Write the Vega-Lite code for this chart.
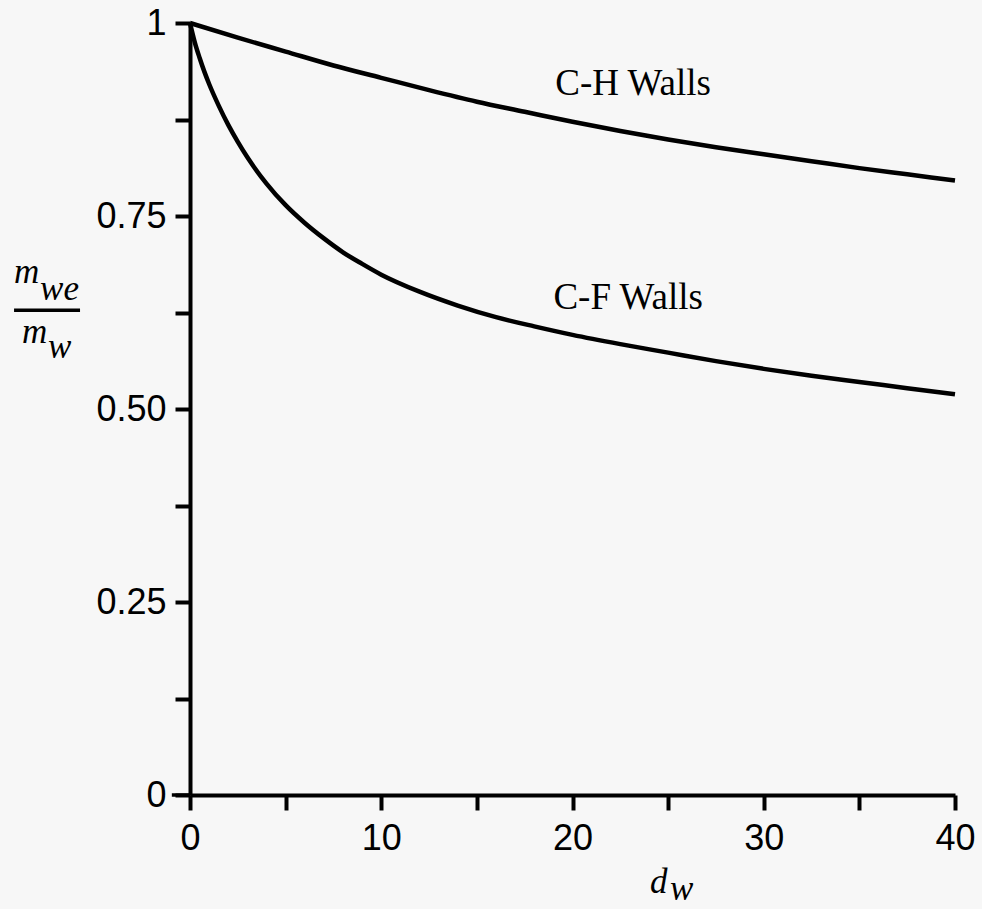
{
  "$schema": "https://vega.github.io/schema/vega-lite/v6.json",
  "width": 765,
  "height": 772,
  "autosize": {"type": "none"},
  "padding": {"left": 190, "top": 23, "right": 27, "bottom": 114},
  "background": "#f7f7f7",
  "config": {
    "view": {"stroke": null},
    "axis": {"grid": false, "domainColor": "#000", "domainWidth": 4, "tickColor": "#000", "tickWidth": 4, "tickSize": 15, "labelColor": "#000", "labelFont": "Liberation Sans", "labelFontSize": 36, "labelFontWeight": "normal"}
  },
  "datasets": {
    "curves": [
      {"d": 0, "r": 1, "s": "C-H"}, {"d": 2.5, "r": 0.981, "s": "C-H"}, {"d": 5, "r": 0.963, "s": "C-H"}, {"d": 7.5, "r": 0.945, "s": "C-H"}, {"d": 10, "r": 0.929, "s": "C-H"}, {"d": 12.5, "r": 0.913, "s": "C-H"}, {"d": 15, "r": 0.898, "s": "C-H"}, {"d": 17.5, "r": 0.885, "s": "C-H"}, {"d": 20, "r": 0.872, "s": "C-H"}, {"d": 22.5, "r": 0.86, "s": "C-H"}, {"d": 25, "r": 0.849, "s": "C-H"}, {"d": 27.5, "r": 0.839, "s": "C-H"}, {"d": 30, "r": 0.83, "s": "C-H"}, {"d": 32.5, "r": 0.821, "s": "C-H"}, {"d": 35, "r": 0.812, "s": "C-H"}, {"d": 37.5, "r": 0.804, "s": "C-H"}, {"d": 40, "r": 0.796, "s": "C-H"},
      {"d": 0, "r": 1, "s": "C-F"}, {"d": 0.25, "r": 0.975, "s": "C-F"}, {"d": 0.5, "r": 0.955, "s": "C-F"}, {"d": 0.75, "r": 0.937, "s": "C-F"}, {"d": 1, "r": 0.921, "s": "C-F"}, {"d": 1.5, "r": 0.893, "s": "C-F"}, {"d": 2, "r": 0.868, "s": "C-F"}, {"d": 2.5, "r": 0.846, "s": "C-F"}, {"d": 3, "r": 0.826, "s": "C-F"}, {"d": 4, "r": 0.792, "s": "C-F"}, {"d": 5, "r": 0.764, "s": "C-F"}, {"d": 6, "r": 0.741, "s": "C-F"}, {"d": 7, "r": 0.721, "s": "C-F"}, {"d": 8, "r": 0.703, "s": "C-F"}, {"d": 9, "r": 0.688, "s": "C-F"}, {"d": 10, "r": 0.674, "s": "C-F"}, {"d": 12, "r": 0.652, "s": "C-F"}, {"d": 14, "r": 0.634, "s": "C-F"}, {"d": 16, "r": 0.619, "s": "C-F"}, {"d": 18, "r": 0.607, "s": "C-F"}, {"d": 20, "r": 0.596, "s": "C-F"}, {"d": 22.5, "r": 0.584, "s": "C-F"}, {"d": 25, "r": 0.573, "s": "C-F"}, {"d": 27.5, "r": 0.562, "s": "C-F"}, {"d": 30, "r": 0.552, "s": "C-F"}, {"d": 32.5, "r": 0.543, "s": "C-F"}, {"d": 35, "r": 0.535, "s": "C-F"}, {"d": 37.5, "r": 0.527, "s": "C-F"}, {"d": 40, "r": 0.519, "s": "C-F"}
    ],
    "labels": [
      {"d": 19.1, "r": 0.907, "t": "C-H Walls"},
      {"d": 19.0, "r": 0.63, "t": "C-F Walls"}
    ],
    "symbols": [
      {"d": -9.2, "r": 0.663, "t": "m"},
      {"d": -7.84, "r": 0.641, "t": "we"},
      {"d": -8.78, "r": 0.585, "t": "m"},
      {"d": -7.42, "r": 0.566, "t": "w"},
      {"d": 24.05, "r": -0.127, "t": "d"},
      {"d": 25.1, "r": -0.136, "t": "w"}
    ],
    "bar": [{"d": -9.2, "d2": -5.75, "r": 0.628}, {"d": -0.95, "d2": 0, "r": 0}]
  },
  "layer": [
    {
      "data": {"name": "curves"},
      "mark": {"type": "line", "color": "#000", "strokeWidth": 4.5, "interpolate": "monotone", "clip": false},
      "encoding": {
        "x": {"field": "d", "type": "quantitative", "scale": {"domain": [0, 40], "nice": false}, "axis": {"title": null, "values": [0, 5, 10, 15, 20, 25, 30, 35, 40], "labelExpr": "datum.value % 10 == 0 ? datum.label : ''", "labelPadding": 11, "labelFlush": false}},
        "y": {"field": "r", "type": "quantitative", "scale": {"domain": [0, 1], "nice": false}, "axis": {"title": null, "values": [0, 0.125, 0.25, 0.375, 0.5, 0.625, 0.75, 0.875, 1], "labelExpr": "datum.value == 0 ? '0' : datum.value == 1 ? '1' : (datum.value * 4) % 1 == 0 ? format(datum.value, '.2f') : ''", "labelPadding": 9, "labelFlush": false}},
        "detail": {"field": "s"}
      }
    },
    {
      "data": {"name": "labels"},
      "mark": {"type": "text", "font": "Liberation Serif", "fontSize": 37, "align": "left", "baseline": "alphabetic", "color": "#000"},
      "encoding": {
        "x": {"field": "d", "type": "quantitative"},
        "y": {"field": "r", "type": "quantitative"},
        "text": {"field": "t"}
      }
    },
    {
      "data": {"name": "symbols"},
      "mark": {"type": "text", "font": "Liberation Serif", "fontStyle": "italic", "fontSize": 35, "align": "left", "baseline": "alphabetic", "color": "#000", "clip": false},
      "encoding": {
        "x": {"field": "d", "type": "quantitative"},
        "y": {"field": "r", "type": "quantitative"},
        "text": {"field": "t"}
      }
    },
    {
      "data": {"name": "bar"},
      "mark": {"type": "rule", "color": "#000", "strokeWidth": 3.5, "clip": false},
      "encoding": {
        "x": {"field": "d", "type": "quantitative"},
        "x2": {"field": "d2"},
        "y": {"field": "r", "type": "quantitative"}
      }
    }
  ]
}
